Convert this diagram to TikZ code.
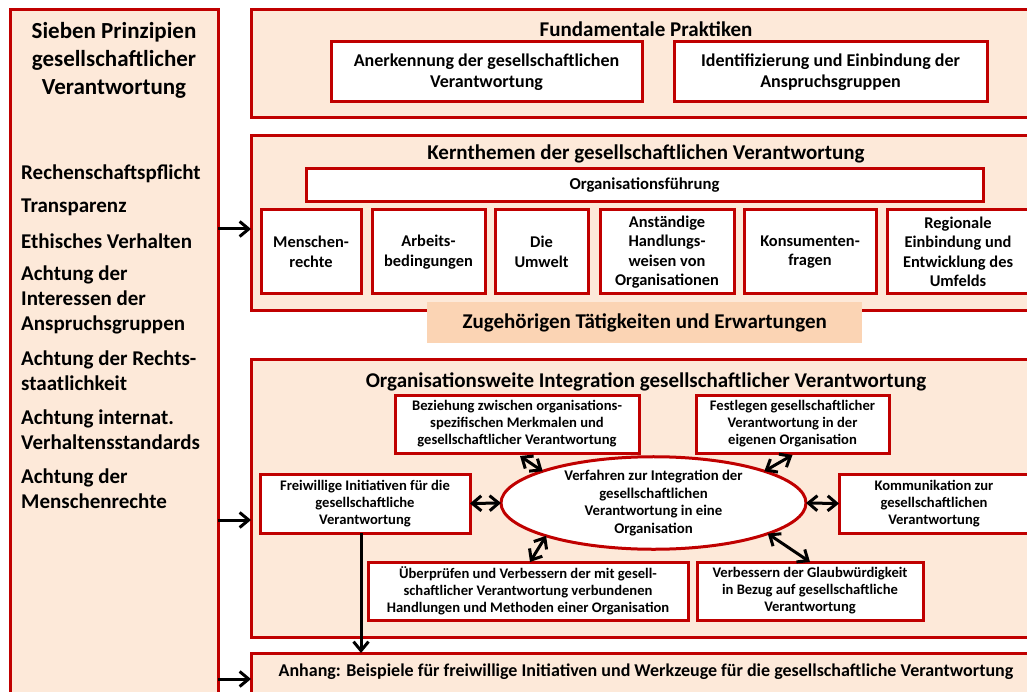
\documentclass[tikz,border=0pt]{standalone}
\usepackage{fontspec}
\setmainfont{Carlito}
\usetikzlibrary{arrows.meta,shapes.geometric}
\definecolor{bred}{HTML}{C00000}
\definecolor{peach}{HTML}{FDE9D9}
\definecolor{tanfill}{HTML}{FBD4B4}
\begin{document}
\begin{tikzpicture}[x=1pt,y=-1pt,
 outerbox/.style={draw=bred,line width=3pt,fill=peach,anchor=north west,inner sep=0pt,outer sep=0pt},
 wbox/.style={draw=bred,line width=3pt,fill=white,anchor=north west,inner sep=0pt,outer sep=0pt,align=center},
 fp/.style={font=\bfseries\fontsize{18}{21}\selectfont},
 kt/.style={font=\bfseries\fontsize{16.4}{19.5}\selectfont},
 owt/.style={font=\bfseries\fontsize{14.6}{17}\selectfont},
 sectitle/.style={font=\bfseries\fontsize{21}{25}\selectfont,inner sep=0pt},
 lefttxt/.style={font=\bfseries\fontsize{21}{25}\selectfont,align=left,anchor=west,inner sep=0pt},
 arr/.style={-{Straight Barb[length=9pt,width=15pt]},line width=3pt},
 dbl/.style={{Straight Barb[length=9pt,width=15pt]}-{Straight Barb[length=9pt,width=15pt]},line width=3pt}
]
\useasboundingbox (0,0) rectangle (1027,692);
\clip (0,0) rectangle (1027,692);

% left column
\node[outerbox,minimum width=208,minimum height=720] (left) at (10,10) {};
\node[font=\bfseries\fontsize{23}{28}\selectfont,align=center,inner sep=0pt] (lt) at (114,60) {Sieben Prinzipien\\gesellschaftlicher\\Verantwortung};
\node[lefttxt] (p1) at (21,174) {Rechenschaftspflicht};
\node[lefttxt] (p2) at (21,207) {Transparenz};
\node[lefttxt] (p3) at (21,241) {Ethisches Verhalten};
\node[lefttxt] (p4) at (21,300) {Achtung der\\Interessen der\\Anspruchsgruppen};
\node[lefttxt] (p5) at (21,371) {Achtung der Rechts-\\staatlichkeit};
\node[lefttxt] (p6) at (21,430) {Achtung internat.\\Verhaltensstandards};
\node[lefttxt] (p7) at (21,489) {Achtung der\\Menschenrechte};

% Fundamentale Praktiken
\node[outerbox,minimum width=800,minimum height=108] (fund) at (251,10) {};
\node[sectitle] (fundt) at (646,29) {Fundamentale Praktiken};
\node[wbox,fp,minimum width=311,minimum height=60] (anerk) at (331,42) {Anerkennung der gesellschaftlichen\\Verantwortung};
\node[wbox,fp,minimum width=313,minimum height=60] (ident) at (674,42) {Identifizierung und Einbindung der\\Anspruchsgruppen};

% Kernthemen
\node[outerbox,minimum width=800,minimum height=175] (kern) at (251,136) {};
\node[sectitle] (kernt) at (646,154) {Kernthemen der gesellschaftlichen Verantwortung};
\node[wbox,font=\bfseries\fontsize{16.7}{19}\selectfont,minimum width=677,minimum height=33] (org) at (306,169) {Organisationsführung};
\node[wbox,kt,minimum width=100,minimum height=84] (men) at (261,210) {Menschen-\\rechte};
\node[wbox,kt,minimum width=113,minimum height=84] (arb) at (372,210) {Arbeits-\\bedingungen};
\node[wbox,kt,minimum width=93,minimum height=84] (umw) at (495,210) {Die\\Umwelt};
\node[wbox,kt,minimum width=134,minimum height=84] (anst) at (600,210) {Anständige\\Handlungs-\\weisen von\\Organisationen};
\node[wbox,kt,minimum width=132,minimum height=84] (kons) at (744,210) {Konsumenten-\\fragen};
\node[wbox,kt,minimum width=142,minimum height=84] (reg) at (887,210) {Regionale\\Einbindung und\\Entwicklung des\\Umfelds};
\node[fill=tanfill,anchor=north west,inner sep=0pt,minimum width=435,minimum height=41] (zug) at (427,302) {};
\node[sectitle] (zugt) at (zug.center) {Zugehörigen Tätigkeiten und Erwartungen};

% Organisationsweite Integration
\node[outerbox,minimum width=800,minimum height=278] (ow) at (251,359) {};
\node[sectitle] (owtitle) at (646,382) {Organisationsweite Integration gesellschaftlicher Verantwortung};
\node[wbox,owt,minimum width=244,minimum height=58] (bez) at (395,395) {Beziehung zwischen organisations-\\spezifischen Merkmalen und\\gesellschaftlicher Verantwortung};
\node[wbox,owt,minimum width=193,minimum height=58] (fest) at (696,395) {Festlegen gesellschaftlicher\\Verantwortung in der\\eigenen Organisation};
\node[wbox,owt,minimum width=210,minimum height=59] (frei) at (260,474) {Freiwillige Initiativen für die\\gesellschaftliche\\Verantwortung};
\node[wbox,owt,minimum width=190,minimum height=59] (komm) at (839,474) {Kommunikation zur\\gesellschaftlichen\\Verantwortung};
\node[ellipse,draw=bred,line width=3pt,fill=white,inner sep=0pt,outer sep=0pt,minimum width=305,minimum height=82,font=\bfseries\fontsize{14.8}{17.5}\selectfont,align=center] (ell) at (653.5,503) {Verfahren zur Integration der\\gesellschaftlichen\\Verantwortung in eine\\Organisation};
\node[wbox,owt,minimum width=320,minimum height=58] (ueb) at (368,562) {Überprüfen und Verbessern der mit gesell-\\schaftlicher Verantwortung verbundenen\\Handlungen und Methoden einer Organisation};
\node[wbox,owt,minimum width=226,minimum height=58] (verb) at (697,562) {Verbessern der Glaubwürdigkeit\\in Bezug auf gesellschaftliche\\Verantwortung};

% Anhang
\node[outerbox,minimum width=800,minimum height=80] (anh) at (251,653) {};
\node[font=\bfseries\fontsize{18}{21}\selectfont,inner sep=0pt] (anht) at (646,672) {Anhang: Beispiele für freiwillige Initiativen und Werkzeuge für die gesellschaftliche Verantwortung};

% arrows from the left column
\draw[arr] ([yshift=-5.5pt]kern.west -| left.east) -- ([yshift=-5.5pt]kern.west);
\draw[arr] ([yshift=-22pt]ow.west -| left.east) -- ([yshift=-22pt]ow.west);
\draw[arr] ([yshift=14pt]anh.west -| left.east) -- ([yshift=14pt]anh.west);

% double arrows around the ellipse
\draw[dbl] ([xshift=3pt,yshift=-3pt]bez.south) -- (ell.164);
\draw[dbl] ([yshift=-2pt]fest.south) -- (ell.16);
\draw[dbl] (frei.east) -- (ell.west);
\draw[dbl] (ell.east) -- (komm.west);
\draw[dbl] (ell.197) -- ([xshift=2pt]ueb.north);
\draw[dbl] (ell.345) -- (verb.north);

% vertical arrow to Anhang
\draw[arr] ([xshift=-4pt]frei.south) -- ([xshift=-4pt]frei.south |- anh.north);
\end{tikzpicture}
\end{document}
